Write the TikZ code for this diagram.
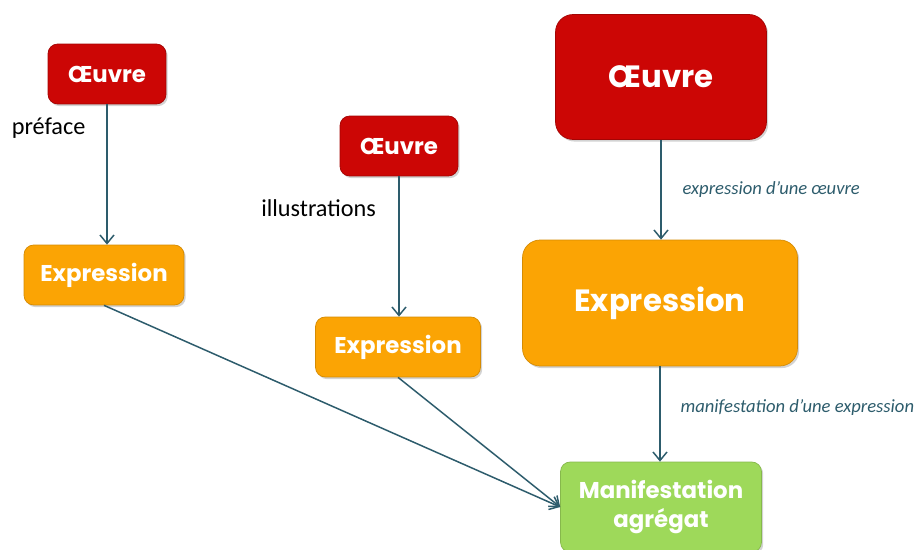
\documentclass[tikz,border=0pt]{standalone}
\usepackage{fontspec}
\setmainfont{Carlito}
\newfontfamily\boxfont{Poppins}
\usetikzlibrary{positioning,shadows,arrows.meta}

\definecolor{oeuvrered}{HTML}{CC0605}
\definecolor{exprorange}{HTML}{FBA404}
\definecolor{manifgreen}{HTML}{9ED95A}
\definecolor{linkteal}{HTML}{2D5C6C}

\begin{document}
\begin{tikzpicture}[
x=0.02cm,y=-0.02cm,
box/.style={
  rounded corners=5.5pt,
  text=white,
  align=center,
  font=\boxfont\bfseries\fontsize{13}{16}\selectfont,
  drop shadow={shadow xshift=1pt,shadow yshift=-1.2pt,opacity=0.35}
  },
oeuvre/.style={
  box,
  fill=oeuvrered,
  draw=oeuvrered!80!black,
  minimum width=2.36cm,
  minimum height=1.2cm
  },
expr/.style={
  box,
  fill=exprorange,
  draw=exprorange!85!black,
  minimum width=3.2cm,
  minimum height=1.2cm
  },
big/.style={
  rounded corners=10pt,
  font=\boxfont\bfseries\fontsize{17.5}{20}\selectfont
  },
manif/.style={
  box,
  fill=manifgreen,
  draw=manifgreen!85!black,
  minimum width=4.02cm,
  minimum height=1.8cm
  },
side/.style={
  font=\fontsize{13.8}{16}\selectfont
  },
rel/.style={
  font=\itshape\fontsize{10.6}{12}\selectfont,
  text=linkteal
  },
link/.style={
  draw=linkteal,
  line width=0.85pt,
  -{Straight Barb[length=1.7mm,width=2.8mm]}
  }
]
\useasboundingbox (0,0) rectangle (914,550);

% agregat : oeuvre + preface
\node[oeuvre] (oe1) at (107,74) {Œuvre};
\node[expr] (ex1) at (104,275) {Expression};

% agregat : oeuvre + illustrations
\node[oeuvre] (oe2) at (399,146) {Œuvre};
\node[expr,minimum width=3.3cm] (ex2) at (398,347) {Expression};

% oeuvre principale
\node[oeuvre,big,minimum width=4.22cm,minimum height=2.5cm] (oe3) at (661,77) {Œuvre};
\node[expr,big,minimum width=5.5cm,minimum height=2.52cm] (ex3) at (660,303) {Expression};
\node[manif] (ma) at (661,507) {Manifestation\\agrégat};

\draw[link] (oe1.south) -- node[pos=0.17,left=0.3cm,side]{préface} (oe1.south |- ex1.north);
\draw[link] (oe2.south) -- node[pos=0.23,left=0.33cm,side]{illustrations} (oe2.south |- ex2.north);
\draw[link] (oe3.south) -- node[right=0.3cm,rel]{expression d’une œuvre} (oe3.south |- ex3.north);
\draw[link] (ex3.south) -- node[pos=0.43,right=0.28cm,rel]{manifestation d’une expression} (ex3.south |- ma.north);
\draw[link] (ex1.south) -- (ma.west);
\draw[link] (ex2.south) -- (ma.west);
\end{tikzpicture}
\end{document}
